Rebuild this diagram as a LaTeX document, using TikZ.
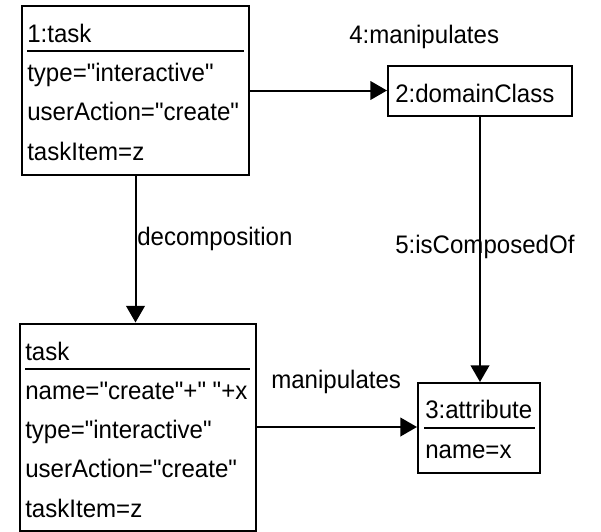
\documentclass[tikz,border=0pt]{standalone}
\usepackage{fontspec}
\setmainfont{Liberation Sans}[Ligatures=TeXOff,FakeStretch=0.95]
\usetikzlibrary{arrows.meta}
\begin{document}
\begin{tikzpicture}[x=0.75pt,y=-0.75pt,
  font=\fontsize{19}{23}\selectfont,
  obj/.style={draw,line width=1.5pt,rectangle,inner sep=0pt},
  txt/.style={anchor=base west,inner sep=0pt},
  sep/.style={line width=1.5pt},
  link/.style={line width=1.5pt,-{Triangle[length=12.5pt,width=14pt]}}]
\useasboundingbox (0,0) rectangle (601,532);

% object boxes
\node[obj,minimum width=227*0.75pt,minimum height=169*0.75pt] (t1) at (135.5,90.5) {};
\node[obj,minimum width=184*0.75pt,minimum height=50*0.75pt] (d2) at (480,91) {};
\node[obj,minimum width=236*0.75pt,minimum height=207*0.75pt] (t2) at (137.75,427) {};
\node[obj,minimum width=122*0.75pt,minimum height=90*0.75pt] (a3) at (479,428) {};

% 1:task
\node[txt] (t1n) at (27,42) {1:task};
\draw[sep] (27,51) -- (244,51);
\node[txt] (t1a) at (27,81) {type="interactive"};
\node[txt] (t1b) at (27,120) {userAction="create"};
\node[txt] (t1c) at (27,160) {taskItem=z};

% 2:domainClass
\node[txt] (d2n) at (395,102) {2:domainClass};

% task
\node[txt] (t2n) at (25,360) {task};
\draw[sep] (25,369) -- (250,369);
\node[txt] (t2a) at (25,399) {name="create"+" "+x};
\node[txt] (t2b) at (25,438) {type="interactive"};
\node[txt] (t2c) at (25,477) {userAction="create"};
\node[txt] (t2d) at (25,517) {taskItem=z};

% 3:attribute
\node[txt] (a3n) at (425,418) {3:attribute};
\draw[sep] (424,428) -- (535,428);
\node[txt] (a3a) at (425,458) {name=x};

% links
\draw[link] (t1.east) -- (t1.east -| d2.west);
\draw[link] (t1.south) -- (t1.south |- t2.north);
\draw[link] (d2.south) -- (d2.south |- a3.north);
\draw[link] (t2.east) -- (t2.east -| a3.west);

% link labels
\node[txt] (l4) at (349,43) {4:manipulates};
\node[txt] (ld) at (137,245) {decomposition};
\node[txt] (l5) at (395,253) {5:isComposedOf};
\node[txt] (lm) at (271,388) {manipulates};
\end{tikzpicture}
\end{document}
